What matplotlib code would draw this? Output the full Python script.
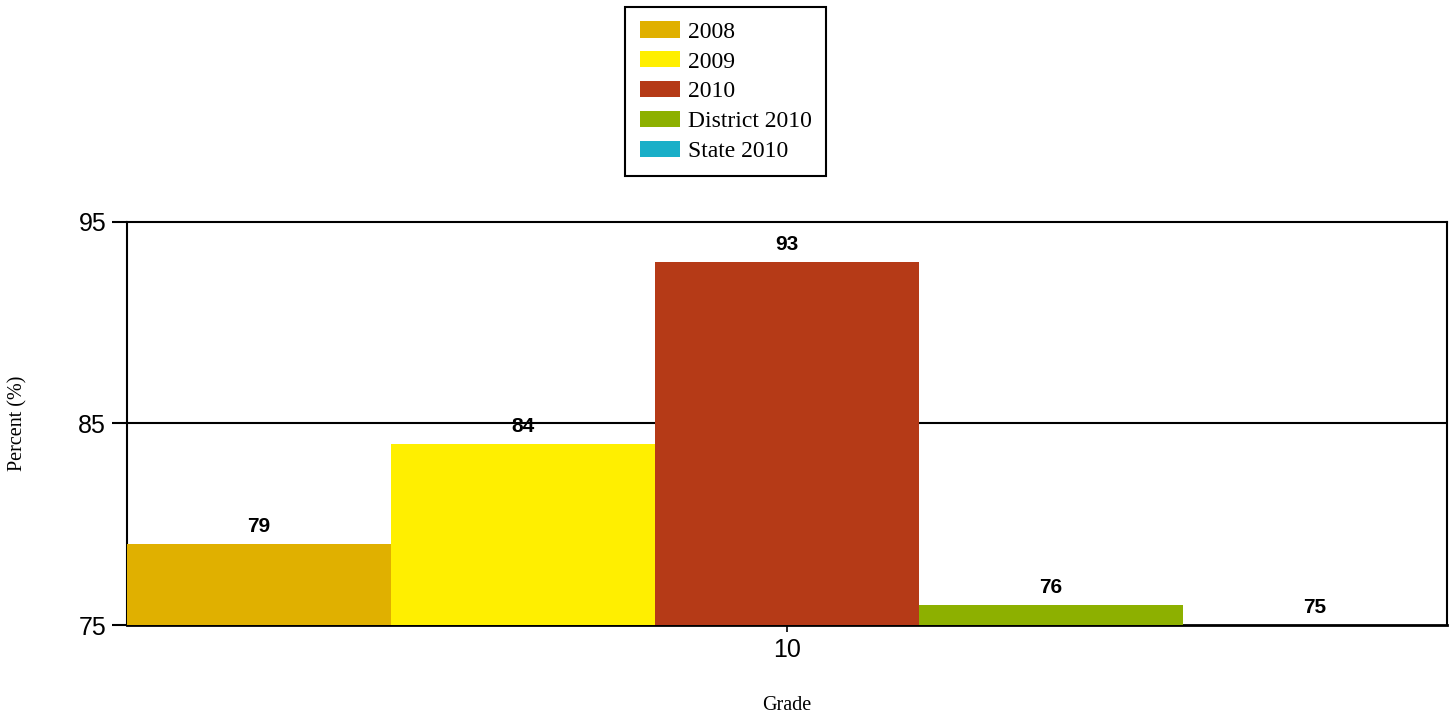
import numpy as np
import matplotlib.pyplot as plt

# data
series = ['2008', '2009', '2010', 'District 2010', 'State 2010']
values = [79, 84, 93, 76, 75]
colors = ['#E0B000', '#FFEF00', '#B53A17', '#8DB000', '#1AAFC8']
grades = ['10']
y_ticks = [75, 85, 95]

fig = plt.figure(figsize=(14.53, 7.17), dpi=100)
fig.patch.set_facecolor('white')
ax = fig.add_axes([0.0874, 0.1283, 0.9085, 0.5621])

bar_w = 0.2
n = len(series)
offsets = (np.arange(n) - (n - 1) / 2) * bar_w
handles = []
for i in range(n):
    b = ax.bar(offsets[i], values[i] - 75, bottom=75, width=bar_w,
               color=colors[i], label=series[i], zorder=3)
    handles.append(b)
    ax.text(offsets[i], values[i] + 0.4, str(values[i]), ha='center', va='bottom',
            fontsize=15, fontweight='bold', family='Liberation Sans', zorder=4)

ax.set_xlim(-0.5, 0.5)
ax.set_ylim(75, 95)
ax.set_xticks([0])
ax.set_xticklabels(grades, fontsize=18, family='Liberation Sans')
ax.set_yticks(y_ticks)
ax.set_yticklabels([str(t) for t in y_ticks], fontsize=18, family='Liberation Sans')
ax.tick_params(axis='y', length=11, width=1.5, pad=4)
ax.tick_params(axis='x', length=5, width=1.2, pad=4)

ax.axhline(85, color='black', linewidth=1.5, zorder=2)

for s in ['left', 'top', 'right']:
    ax.spines[s].set_linewidth(1.5)
ax.spines['bottom'].set_linewidth(2)

# axis titles placed in figure coords
ax.set_ylabel('Percent (%)', family='Liberation Serif', fontsize=14.5)
ax.yaxis.set_label_coords(18 / 1453, 1 - 423 / 717, transform=fig.transFigure)
ax.set_xlabel('Grade', family='Liberation Serif', fontsize=14.5)
ax.xaxis.set_label_coords(787 / 1453, 1 - 705 / 717, transform=fig.transFigure)
ax.xaxis.label.set_va('center')
ax.yaxis.label.set_va('center')

leg = fig.legend(handles=handles, loc='upper center', bbox_to_anchor=(0.4995, 0.99),
                 prop={'family': 'Liberation Serif', 'size': 17},
                 fancybox=False, edgecolor='black', framealpha=1,
                 handlelength=1.7, handleheight=0.68, labelspacing=0.36,
                 borderpad=0.6, handletextpad=0.35, borderaxespad=0)
leg.get_frame().set_linewidth(1.5)

fig.savefig('out.png', dpi=100)
